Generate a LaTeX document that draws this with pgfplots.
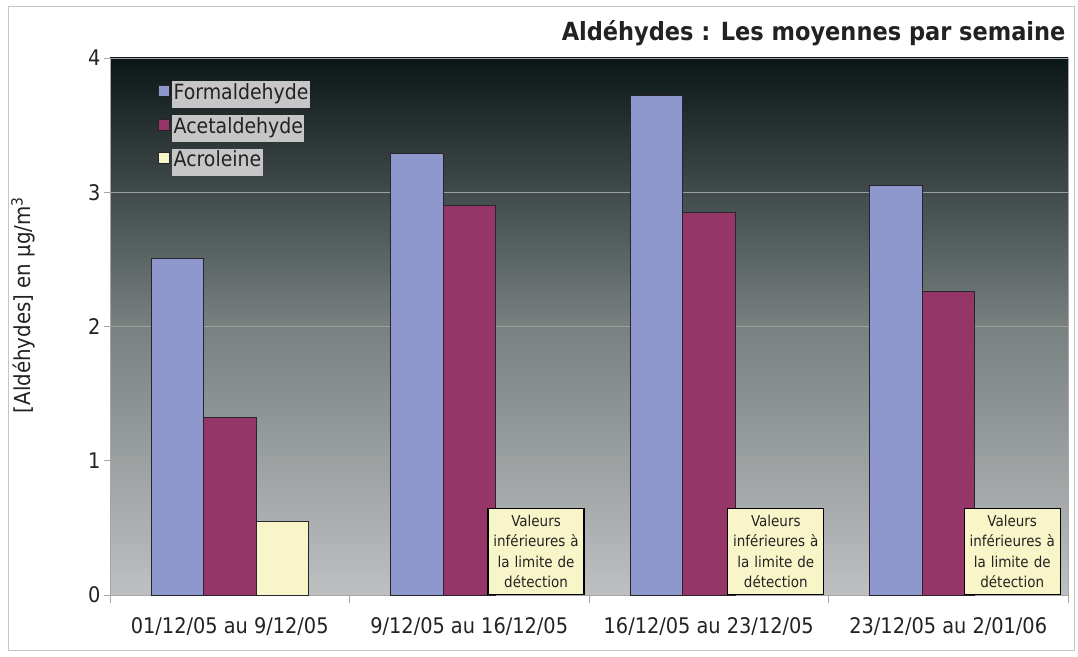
\documentclass[border=0pt]{standalone}
\usepackage{pgfplots}
\pgfplotsset{compat=1.18}
\usepackage{fontspec}
\setmainfont{DejaVu Sans Condensed}
\definecolor{cF}{HTML}{8E98CC}
\definecolor{cA}{HTML}{963668}
\definecolor{cR}{HTML}{F8F6C9}
\definecolor{bgtop}{HTML}{0B1616}
\definecolor{bgmid}{HTML}{788080}
\definecolor{bgbot}{HTML}{BEC0C2}
\definecolor{leggray}{HTML}{C6C6C6}
\definecolor{txt}{HTML}{222222}
\definecolor{edge}{HTML}{25252B}
\newcommand{\legbox}[1]{{\setlength{\fboxsep}{1.5pt}\colorbox{leggray}{\strut #1}}}
\tikzset{valbox/.style={anchor=south, fill=cR, draw=black, line width=1.3pt, text=txt, align=center,
        font=\fontsize{15}{20.5}\selectfont, text width=92pt, inner sep=2pt, minimum height=86pt}}
\begin{document}
\begin{tikzpicture}
\useasboundingbox (0,0) rectangle (1078pt,656pt);
\draw[gray!45, line width=0.8pt] (8pt,6pt) rectangle (1074pt,650pt);
\begin{axis}[
  at={(110pt,61pt)}, anchor=south west,
  scale only axis, width=958pt, height=537pt,
  ybar=0pt, bar width=52.5pt,
  legend image code/.code={\draw[#1,draw=edge,line width=1pt] (0pt,-5.5pt) rectangle (11pt,5.5pt);},
  xmin=-0.5, xmax=3.5, ymin=0, ymax=4,
  xtick={0,1,2,3},
  xticklabels={01/12/05 au 9/12/05, 9/12/05 au 16/12/05, 16/12/05 au 23/12/05, 23/12/05 au 2/01/06},
  minor xtick={-0.5,0.5,1.5,2.5,3.5},
  ytick={0,1,2,3,4},
  major x tick style={draw=none},
  minor x tick style={gray!70, line width=0.8pt},
  major y tick style={gray!70, line width=0.8pt},
  major tick length=6pt, minor tick length=8pt,
  tick align=outside, xtick pos=bottom, ytick pos=left,
  ymajorgrids, grid style={gray!75, line width=0.6pt},
  axis line style={gray!70, line width=0.8pt},
  axis background/.style={top color=bgtop, bottom color=bgbot, middle color=bgmid},
  ticklabel style={font=\fontsize{21.5}{24}\selectfont, text=txt},
  /pgf/number format/assume math mode=true,
  xticklabel style={yshift=-13pt},
  ylabel={[Aldéhydes] en µg/m\textsuperscript{3}},
  ylabel style={font=\fontsize{22}{24}\selectfont, text=txt, at={(axis description cs:-0.075,0.54)}},
  legend style={at={(axis description cs:0.047,0.965)}, anchor=north west, draw=none, fill=none,
    font=\fontsize{21}{24}\selectfont, text=txt, row sep=10pt,
    /tikz/every even column/.append style={column sep=2pt}},
  legend cell align=left,
  clip=false,
]
\addplot[fill=cF, draw=edge, line width=1pt] coordinates {(0,2.51) (1,3.285) (2,3.72) (3,3.05)};
\addlegendentry{\legbox{Formaldehyde}}
\addplot[fill=cA, draw=edge, line width=1pt] coordinates {(0,1.32) (1,2.90) (2,2.85) (3,2.26)};
\addlegendentry{\legbox{Acetaldehyde}}
\addplot[fill=cR, draw=edge, line width=1pt] coordinates {(0,0.55)};
\addlegendentry{\legbox{Acroleine}}
\node[valbox] at (axis cs:1.279,0) {Valeurs\\inférieures à\\la limite de\\détection};
\node[valbox] at (axis cs:2.28,0) {Valeurs\\inférieures à\\la limite de\\détection};
\node[valbox] at (axis cs:3.267,0) {Valeurs\\inférieures à\\la limite de\\détection};
\end{axis}
\node[anchor=east, font=\bfseries\fontsize{25}{28}\selectfont, text=txt] at (1069pt,623pt) {Aldéhydes : Les moyennes par semaine};
\end{tikzpicture}
\end{document}
